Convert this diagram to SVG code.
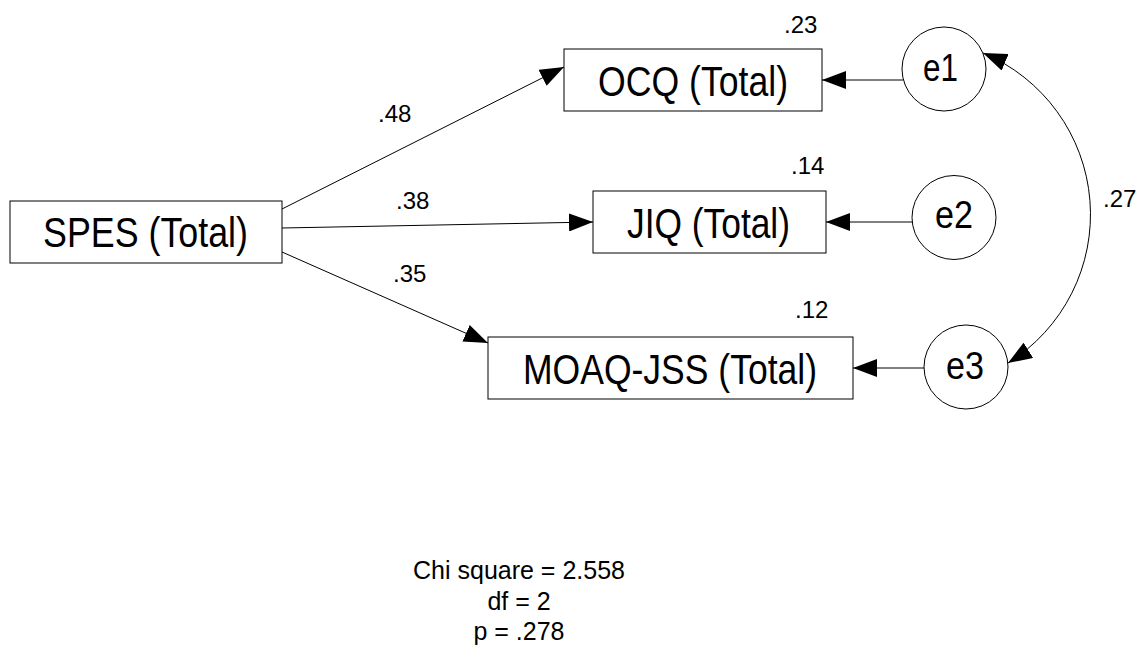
<svg xmlns="http://www.w3.org/2000/svg" width="1147" height="647" viewBox="0 0 1147 647">
<defs>
<style>
.box{fill:#fff;stroke:#000;stroke-width:1}
.err{fill:#fff;stroke:#000;stroke-width:1}
.lbl{font-family:"Liberation Sans",Arial,sans-serif;font-size:43px;fill:#000}
.elbl{font-family:"Liberation Sans",Arial,sans-serif;font-size:39px;fill:#000}
.num{font-family:"Liberation Sans",Arial,sans-serif;font-size:24px;fill:#000}
.stat{font-family:"Liberation Sans",Arial,sans-serif;font-size:25px;fill:#000;text-anchor:middle}
.edge{fill:none;stroke:#000;stroke-width:1}
</style>
<marker id="ah" markerUnits="userSpaceOnUse" viewBox="0 0 24 18" refX="24" refY="9" markerWidth="24" markerHeight="18" orient="auto-start-reverse">
<path d="M0,0 L24,9 L0,18 z" fill="#000"/>
</marker>
</defs>
<rect width="1147" height="647" fill="#fff"/>
<g id="connectors">
<line class="edge" x1="282" y1="209" x2="564" y2="67" marker-end="url(#ah)"/>
<line class="edge" x1="282" y1="228" x2="593" y2="222" marker-end="url(#ah)"/>
<line class="edge" x1="282" y1="252" x2="488" y2="343" marker-end="url(#ah)"/>
<line class="edge" x1="903" y1="80" x2="822" y2="80" marker-end="url(#ah)"/>
<line class="edge" x1="912" y1="222" x2="826" y2="222" marker-end="url(#ah)"/>
<line class="edge" x1="924" y1="368" x2="853" y2="368" marker-end="url(#ah)"/>
<path class="edge" d="M983,53 A175,175 0 0 1 1008,363" marker-start="url(#ah)" marker-end="url(#ah)"/>
<text class="num" x="378" y="122">.48</text>
<text class="num" x="396" y="209">.38</text>
<text class="num" x="393" y="282">.35</text>
<text class="num" x="1103" y="207">.27</text>
</g>
<g id="spes">
<rect class="box" x="10" y="201" width="272" height="62"/>
<text class="lbl" x="43" y="247" textLength="205" lengthAdjust="spacingAndGlyphs">SPES (Total)</text>
</g>
<g id="ocq">
<rect class="box" x="564" y="49" width="258" height="62"/>
<text class="lbl" x="598" y="96" textLength="190" lengthAdjust="spacingAndGlyphs">OCQ (Total)</text>
<text class="num" x="784" y="33">.23</text>
</g>
<g id="jiq">
<rect class="box" x="593" y="191" width="233" height="62"/>
<text class="lbl" x="627" y="238" textLength="163" lengthAdjust="spacingAndGlyphs">JIQ (Total)</text>
<text class="num" x="791" y="174">.14</text>
</g>
<g id="moaq">
<rect class="box" x="488" y="337" width="365" height="62"/>
<text class="lbl" x="523" y="384" textLength="294" lengthAdjust="spacingAndGlyphs">MOAQ-JSS (Total)</text>
<text class="num" x="795" y="318">.12</text>
</g>
<g id="e1">
<circle class="err" cx="944" cy="69" r="42"/>
<text class="elbl" x="923" y="81" textLength="35" lengthAdjust="spacingAndGlyphs">e1</text>
</g>
<g id="e2">
<circle class="err" cx="954" cy="217.5" r="42"/>
<text class="elbl" x="935" y="228" textLength="38" lengthAdjust="spacingAndGlyphs">e2</text>
</g>
<g id="e3">
<circle class="err" cx="966" cy="367" r="42"/>
<text class="elbl" x="946" y="379" textLength="38" lengthAdjust="spacingAndGlyphs">e3</text>
</g>
<g id="fit">
<text class="stat" x="519" y="579">Chi square = 2.558</text>
<text class="stat" x="519" y="610">df = 2</text>
<text class="stat" x="519" y="640">p = .278</text>
</g>
</svg>
